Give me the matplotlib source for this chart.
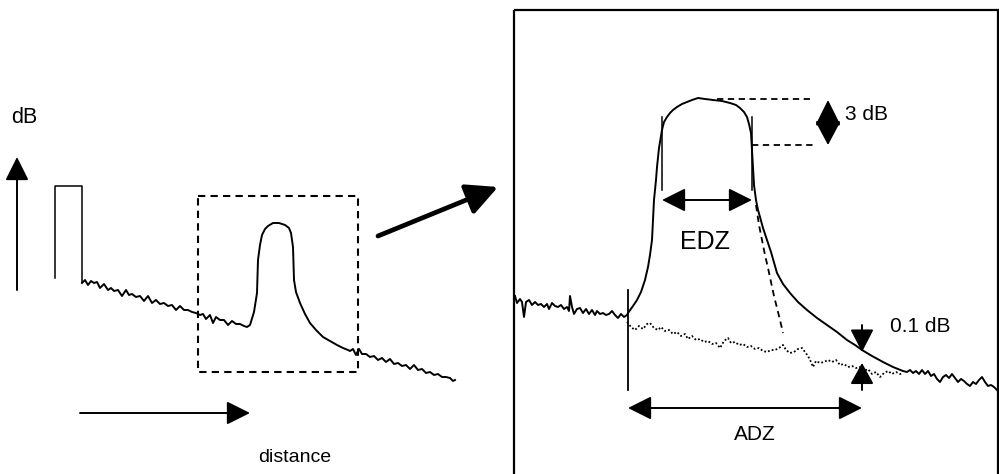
import matplotlib
matplotlib.use("Agg")
import matplotlib.pyplot as plt
from matplotlib.patches import Rectangle

plt.rcParams['font.family'] = ['Liberation Sans', 'DejaVu Sans']

# ---- data (pixel coordinates, y grows downwards) ----

# left panel: OTDR trace
pulse_x = [55, 55, 82, 82]
pulse_y = [278, 186, 186, 282]

trace_x = [82, 85, 88, 91, 94, 97, 100, 104, 108, 111, 114, 118, 122, 126, 129,
           132, 136, 140, 144, 148, 152, 156, 160, 164, 168, 172, 176, 180, 184,
           188, 192, 196, 200, 203, 206, 210, 213, 216, 220, 224, 228, 232, 236,
           240, 244, 247,
           250, 254, 257, 258, 260, 262, 265, 268, 273, 279, 285, 289, 291, 293,
           294, 296, 300, 305, 310, 316, 323, 330, 337, 343, 348,
           350, 353, 356, 359, 362, 366, 370, 374, 378, 382, 386, 390, 394, 398,
           402, 406, 410, 414, 418, 422, 426, 430, 434, 438, 442, 446, 450, 453, 455]
trace_y = [283, 280, 285, 281, 283, 282, 288, 284, 290, 288, 291, 290, 296, 290, 295,
           294, 297, 296, 301, 296, 303, 300, 304, 303, 306, 305, 310, 306, 310,
           310, 312, 313, 315, 314, 319, 315, 323, 317, 320, 320, 325, 321, 324,
           324, 326, 327,
           325, 312, 293, 260, 245, 235, 229, 226, 223, 223, 225, 228, 233, 247,
           280, 292, 303, 314, 323, 330, 337, 341, 345, 348, 350,
           351, 349, 355, 349, 354, 354, 357, 356, 360, 358, 362, 359, 364, 363,
           366, 365, 369, 365, 370, 369, 373, 372, 375, 374, 377, 377, 378, 381, 380]

# right panel: zoomed event
zoom_x = [515, 517, 520, 522, 524, 526, 529, 532, 535, 538, 541, 544, 547, 549,
          552, 555, 558, 561, 564, 567, 569, 570, 572, 574, 577, 580, 583, 586,
          589, 592, 595, 597, 600, 603, 606, 609, 612, 615, 618, 621, 624, 627,
          628, 633, 637, 641, 645, 648, 650, 652, 653, 654, 656, 657, 659, 662,
          664, 667, 670, 673, 677, 682, 687, 692, 698, 705, 713, 722, 730, 736,
          740, 744, 747, 749, 751, 752, 753, 754, 756, 758, 760, 763, 767, 771,
          777, 783, 790, 798, 807, 817, 827, 837, 847, 855, 862, 872, 883, 893,
          903, 907, 910, 913, 916, 919, 922, 925, 928, 931, 934, 937, 940, 943,
          946, 949, 952, 955, 958, 961, 964, 967, 970, 973, 976, 979, 982, 985,
          988, 991, 994, 998]
zoom_y = [296, 303, 299, 302, 317, 302, 300, 305, 302, 305, 304, 307, 304, 309,
          303, 306, 307, 305, 309, 307, 311, 296, 307, 314, 309, 308, 313, 309,
          314, 310, 315, 311, 314, 313, 315, 314, 311, 315, 318, 314, 317, 315,
          313, 306, 300, 292, 280, 267, 255, 240, 220, 200, 180, 167, 148, 130,
          122, 117, 113, 110, 107, 104, 102, 100, 98, 99, 100, 101, 103, 105,
          108, 112, 117, 124, 133, 150, 167, 185, 200, 210, 217, 228, 240, 252,
          273, 284, 293, 302, 310, 318, 325, 332, 340, 345, 350, 356, 362, 367,
          371, 372, 370, 373, 371, 374, 370, 374, 371, 376, 374, 379, 382, 377,
          375, 378, 374, 378, 382, 379, 381, 384, 386, 382, 384, 380, 377, 382,
          386, 385, 387, 391]

# ideal fall (dashed) and backscatter baseline (dotted)
fall_x = [756, 759, 762, 765, 768, 771, 774, 777, 780, 783]
fall_y = [205, 225, 240, 255, 268, 282, 296, 308, 320, 333]

base_x = [627, 631, 635, 639, 643, 647, 650, 654, 658, 661, 665, 669, 673, 677,
          681, 685, 688, 692, 696, 700, 704, 708, 712, 716, 720, 724, 728, 731,
          735, 739, 743, 747, 751, 755, 759, 763, 767, 771, 775, 779, 783, 786,
          790, 794, 798, 802, 805, 808, 811, 813, 816, 820, 824, 828, 832, 836,
          840, 844, 848, 852, 856, 860, 864, 868, 872, 876, 880, 884, 888, 892,
          896, 900, 903]
base_y = [322, 327, 330, 326, 329, 324, 323, 328, 330, 327, 331, 330, 334, 332,
          336, 334, 339, 336, 340, 339, 342, 341, 344, 343, 348, 341, 338, 343,
          342, 345, 344, 347, 346, 349, 348, 351, 352, 350, 350, 348, 345, 350,
          353, 352, 349, 348, 352, 356, 362, 367, 361, 363, 362, 360, 362, 360,
          365, 364, 367, 366, 368, 367, 371, 369, 374, 372, 377, 373, 371, 374,
          372, 374, 373]

# annotation geometry
edz_marks_x = [662, 752]
edz_marks_y = (117, 190)
edz_span = (662, 752, 200)
adz_mark = (628, 290, 390)
adz_span = (628, 862, 408)
db3_top = (717, 813, 99)
db3_bot = (752, 813, 145)
db3_arrow = (828, 100, 123, 145)
db01_arrow = (862, 325, 352, 390, 363)

fig = plt.figure(figsize=(9.99, 4.74), dpi=100)
ax = fig.add_axes([0, 0, 1, 1])
ax.set_xlim(0, 999)
ax.set_ylim(474, 0)
ax.axis('off')

lw = 1.4


def arrow(tail, tip, hl=1.44, hw=0.72, width=lw, style='-|>'):
    ax.annotate('', xy=tip, xytext=tail,
                arrowprops=dict(arrowstyle=f'{style},head_length={hl},head_width={hw}',
                                lw=width, color='black', shrinkA=0, shrinkB=0,
                                mutation_scale=10))


# left panel
ax.plot(pulse_x, pulse_y, color='black', lw=1.1)
ax.plot(trace_x, trace_y, color='black', lw=lw)
ax.add_patch(Rectangle((198, 196), 160, 176, fill=False, ls=(0, (3.5, 2.5)),
                       lw=1.5, ec='black'))
arrow((17, 290), (17, 157))
arrow((80, 413), (250, 413))
arrow((378, 236), (498, 187), hl=1.9, hw=0.95, width=3.4)
ax.text(24, 123, 'dB', fontsize=15.5, ha='center', va='baseline')
ax.text(258, 462, 'distance', fontsize=14, ha='left', va='baseline')

# right panel
ax.add_patch(Rectangle((514, 10), 484, 480, fill=False, lw=1.6, ec='black'))
ax.plot(zoom_x, zoom_y, color='black', lw=lw)
ax.plot(fall_x, fall_y, color='black', lw=1.3, ls=(0, (3.5, 2.5)))
ax.plot(base_x, base_y, color='black', lw=1.3, ls=(0, (1, 1.2)))

for mx in edz_marks_x:
    ax.plot([mx, mx], edz_marks_y, color='black', lw=1.1)
arrow((edz_span[0], edz_span[2]), (edz_span[1], edz_span[2]), style='<|-|>')
ax.text(705, 249, 'EDZ', fontsize=18, ha='center', va='baseline')

ax.plot([db3_top[0], db3_top[1]], [db3_top[2]] * 2, color='black', lw=1.3,
        ls=(0, (3.5, 2.5)))
ax.plot([db3_bot[0], db3_bot[1]], [db3_bot[2]] * 2, color='black', lw=1.3,
        ls=(0, (3.5, 2.5)))
arrow((db3_arrow[0], db3_arrow[2]), (db3_arrow[0], db3_arrow[1]), hl=1.6, hw=0.8)
arrow((db3_arrow[0], db3_arrow[2]), (db3_arrow[0], db3_arrow[3]), hl=1.5, hw=0.8)
ax.text(845, 120, '3 dB', fontsize=15, ha='left', va='baseline')

arrow((db01_arrow[0], db01_arrow[1]), (db01_arrow[0], db01_arrow[2]), hl=1.4, hw=0.72)
arrow((db01_arrow[0], db01_arrow[3]), (db01_arrow[0], db01_arrow[4]), hl=1.3, hw=0.72)
ax.text(890, 332, '0.1 dB', fontsize=15, ha='left', va='baseline')

ax.plot([adz_mark[0]] * 2, [adz_mark[1], adz_mark[2]], color='black', lw=1.3)
arrow((adz_span[0], adz_span[2]), (adz_span[1], adz_span[2]), style='<|-|>')
ax.text(755, 440, 'ADZ', fontsize=15, ha='center', va='baseline')

fig.savefig('out.png', dpi=100)
